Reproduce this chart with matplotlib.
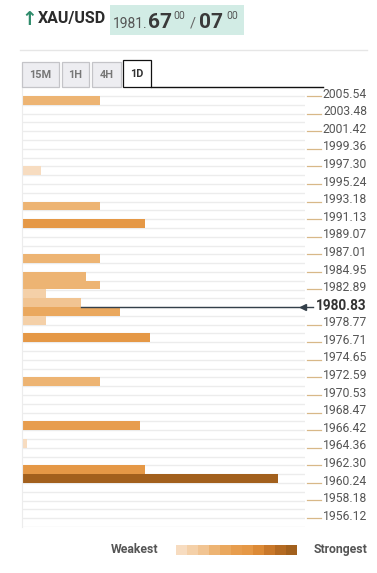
import matplotlib
matplotlib.use("Agg")
import matplotlib.pyplot as plt
import numpy as np
from matplotlib.patches import Rectangle
from matplotlib.colors import ListedColormap
from matplotlib.lines import Line2D
import matplotlib.transforms as mtransforms

plt.rcParams['font.family'] = ['Roboto', 'DejaVu Sans']

# ---------------- data ----------------
symbol = "XAU/USD"
price_big = "1981."
bid_main, bid_sup = "67", "00"
ask_main, ask_sup = "07", "00"
timeframes = ["15M", "1H", "4H", "1D"]
active_tf = "1D"

tick_labels = ["2005.54", "2003.48", "2001.42", "1999.36", "1997.30", "1995.24",
               "1993.18", "1991.13", "1989.07", "1987.01", "1984.95", "1982.89",
               "1980.83", "1978.77", "1976.71", "1974.65", "1972.59", "1970.53",
               "1968.47", "1966.42", "1964.36", "1962.30", "1960.24", "1958.18",
               "1956.12"]
current_price = 1980.83
row_step = 1.03
price_top = 2006.57
price_bottom = 1955.07

# level (row centre price) and confluence strength (0-100)
levels = [2005.03, 1996.79, 1992.67, 1990.61, 1986.48, 1984.42, 1983.40,
          1982.37, 1981.34, 1980.31, 1979.28, 1977.22, 1972.07, 1966.92,
          1964.86, 1961.77, 1960.74]
strength = [27.6, 6.6, 27.6, 43.5, 27.6, 22.6, 27.6,
            8.4, 20.7, 34.6, 8.4, 45.2, 27.6, 41.7,
            1.7, 43.5, 90.4]

palette = ["#f7dcc0", "#f4d0a8", "#f1c492", "#edb473", "#eaa85e", "#e79d4e",
           "#e59846", "#dc8a36", "#c9782a", "#b46a22", "#a2601d"]

# ---------------- figure ----------------
W, H = 377, 573
fig = plt.figure(figsize=(W / 100, H / 100), dpi=100)
fig.patch.set_facecolor("white")


def fx(px):
    return px / W


def fy(py):
    return 1 - py / H


# header
fig.text(fx(21), fy(19.5), "\u2191", color="#2e8b6b", fontsize=13.5, fontweight="bold",
         va="center", ha="left", family=["DejaVu Sans"])
fig.text(fx(38), fy(19), symbol, color="#2b2b2b", fontsize=11.5, fontweight="bold",
         va="center", ha="left")
fig.patches.append(Rectangle((fx(110), fy(35)), fx(134), 30 / H, transform=fig.transFigure,
                             facecolor="#d2ece5", edgecolor="none"))
base = fy(28)
fig.text(fx(113), base, price_big, color="#555555", fontsize=10, va="baseline", ha="left")
fig.text(fx(148), base, bid_main, color="#3a3a3a", fontsize=15, fontweight="bold",
         va="baseline", ha="left")
fig.text(fx(173), fy(19), bid_sup, color="#555555", fontsize=7.5, va="baseline", ha="left")
fig.text(fx(190), base, "/", color="#666666", fontsize=10.5, va="baseline", ha="left")
fig.text(fx(199), base, ask_main, color="#3a3a3a", fontsize=15, fontweight="bold",
         va="baseline", ha="left")
fig.text(fx(226), fy(19), ask_sup, color="#555555", fontsize=7.5, va="baseline", ha="left")

# separator
fig.lines.append(Line2D([fx(20), fx(367)], [fy(50), fy(50)], transform=fig.transFigure,
                        color="#e6e6e6", lw=1))

# tabs
tab_x = [(22, 58.7), (61.7, 89.3), (92, 120.7), (123.3, 150.7)]
for (x0, x1), tf in zip(tab_x, timeframes):
    if tf == active_tf:
        y0, y1 = 60, 87
        fc, ec, tc = "white", "#111111", "#333333"
    else:
        y0, y1 = 61.7, 86.7
        fc, ec, tc = "#ededf1", "#c4c4c8", "#777777"
    fig.patches.append(Rectangle((fx(x0), fy(y1)), fx(x1 - x0), (y1 - y0) / H,
                                 transform=fig.transFigure, facecolor=fc, edgecolor=ec, lw=0.9))
    fig.text(fx((x0 + x1) / 2), fy((y0 + y1) / 2 + 0.5), tf, color=tc, fontsize=7.8,
             fontweight="bold", ha="center", va="center")
fig.lines.append(Line2D([fx(150.7), fx(323)], [fy(87), fy(87)], transform=fig.transFigure,
                        color="#111111", lw=1))

# main axes
left, right, top, bottom = 22, 305, 87.2, 527
ax = fig.add_axes([fx(left), fy(bottom), fx(right - left), (bottom - top) / H])
ax.set_xlim(0, 100)
ax.set_ylim(price_bottom, price_top)
for s in ["top", "right", "bottom"]:
    ax.spines[s].set_visible(False)
ax.spines["left"].set_color("#ececec")
ax.set_xticks([])
ax.set_yticks([])

# grid rows
n_rows = int(round((price_top - price_bottom) / row_step))
for k in range(1, n_rows + 1):
    ax.axhline(price_top - k * row_step, color="#ececec", lw=1, zorder=0)

# bars
cmap_idx = [min(len(palette) - 1, int(s / 7)) for s in strength]
ax.barh(levels, strength, height=row_step, color=[palette[i] for i in cmap_idx],
        edgecolor="none", zorder=2)

# current price line (starts where the bar just above ends)
above = [s for l, s in zip(levels, strength) if 0 < l - current_price < row_step]
start = above[0] if above else 0
ax.plot([start, 99.3], [current_price, current_price], color="#34404a", lw=1, zorder=3)
ax.plot([99.3], [current_price], marker="<", color="#34404a", markersize=5, zorder=4,
        clip_on=False)

# right tick labels
trans = mtransforms.blended_transform_factory(ax.transAxes, ax.transData)
x_dash0 = (307 - left) / (right - left)
x_dash1 = (321 - left) / (right - left)
x_lab = (367 - left) / (right - left)
for lab in tick_labels:
    v = float(lab)
    if abs(v - current_price) < 0.01:
        ax.plot([1.0, (313 - left) / (right - left)], [v, v], color="#34404a", lw=1,
                transform=trans, clip_on=False)
        ax.text(x_lab, v + 0.1, lab, transform=trans, ha="right", va="center", fontsize=9.8,
                fontweight="bold", color="#333333")
    else:
        ax.plot([x_dash0, x_dash1], [v, v], color="#d8b888", lw=0.9, transform=trans,
                clip_on=False)
        ax.text(x_lab, v - 0.2, lab, transform=trans, ha="right", va="baseline",
                fontsize=8.7, color="#555555")

# legend
fig.text(fx(158), fy(549.5), "Weakest", color="#555555", fontsize=8.8, fontweight="bold",
         ha="right", va="center")
fig.text(fx(367), fy(549.5), "Strongest", color="#555555", fontsize=8.8, fontweight="bold",
         ha="right", va="center")
lax = fig.add_axes([fx(176), fy(555.5), fx(121), 10.5 / H])
lax.imshow(np.arange(len(palette))[None, :], cmap=ListedColormap(palette), aspect="auto",
           interpolation="nearest")
lax.axis("off")

fig.savefig("out.png", dpi=100, facecolor="white")
